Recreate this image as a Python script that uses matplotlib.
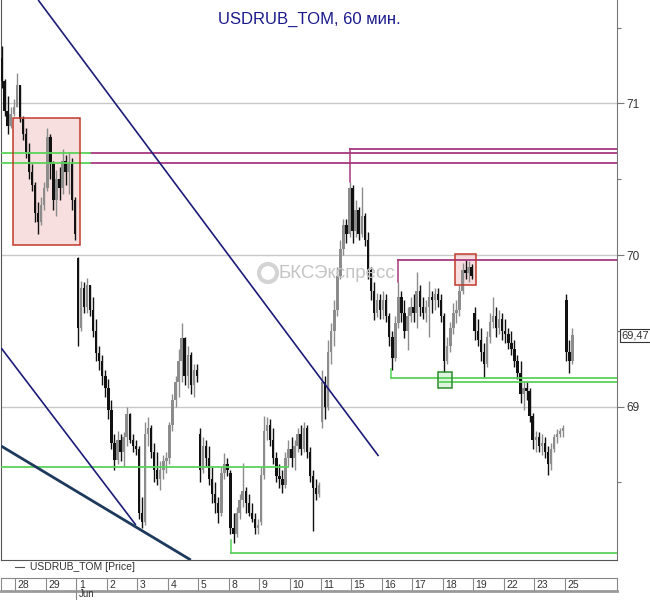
import matplotlib
matplotlib.use("Agg")
import matplotlib.pyplot as plt
from matplotlib.patches import Rectangle, Ellipse
from matplotlib.lines import Line2D
import matplotlib.transforms as mtransforms

plt.rcParams['font.family'] = ['Liberation Sans', 'DejaVu Sans']

# hourly candles, 27 May (last hours) .. 25 Jun
opens = [
    71.30, 71.15, 70.95, 70.85, 70.93,                                      # 27
    70.98, 71.12, 70.90, 70.80, 70.68, 70.55, 70.46, 70.28, 70.22, 70.33,   # 28
    70.44, 70.78, 70.60, 70.36, 70.50, 70.44, 70.62, 70.55, 70.60, 70.36,   # 29
    69.98, 69.52, 69.78, 69.66, 69.80, 69.64, 69.50, 69.35, 69.30, 69.20,   # 1
    69.12, 68.98, 68.76, 68.65, 68.78, 68.70, 68.80, 68.95, 68.78, 68.74,   # 2
    68.72, 68.30, 68.24, 68.82, 68.86, 68.70, 68.58, 68.52, 68.58, 68.64,   # 3
    68.66, 68.88, 69.04, 69.16, 69.30, 69.45, 69.20, 69.34, 69.14, 69.24,   # 4
    68.82, 68.58, 68.74, 68.66, 68.52, 68.42, 68.36, 68.30, 68.56, 68.62,   # 5
    68.56, 68.20, 68.16, 68.30, 68.38, 68.44, 68.36, 68.30, 68.26, 68.20,   # 8
    68.24, 68.55, 68.84, 68.88, 68.78, 68.66, 68.54, 68.52, 68.48, 68.66,   # 9
    68.72, 68.66, 68.74, 68.82, 68.72, 68.86, 68.70, 68.54, 68.46, 68.42,   # 10
    68.90, 69.16, 69.00, 69.36, 69.50, 69.64, 69.86, 70.04, 70.20, 70.14,   # 11
    70.44, 70.16, 70.30, 70.14, 70.26, 70.10, 69.90, 69.76, 69.62, 69.70,   # 15
    69.64, 69.70, 69.60, 69.46, 69.32, 69.55, 69.72, 69.62, 69.50, 69.60,   # 16
    69.66, 69.62, 69.76, 69.66, 69.62, 69.66, 69.72, 69.70, 69.74, 69.70,   # 17
    69.60, 69.30, 69.40, 69.52, 69.62, 69.64, 69.76, 69.90, 69.88, 69.92,   # 18
    69.62, 69.50, 69.44, 69.36, 69.28, 69.46, 69.56, 69.60, 69.52, 69.58,   # 19
    69.50, 69.48, 69.42, 69.38, 69.30, 69.22, 69.08, 69.12, 69.10, 68.94,   # 22
    68.78, 68.80, 68.74, 68.76, 68.70, 68.62, 68.72, 68.80, 68.82, 68.84,   # 23
    69.70, 69.36, 69.30,                                                    # 25
]
highs = [
    71.38, 71.16, 71.05, 70.98, 71.03,
    71.20, 71.12, 70.92, 70.84, 70.74, 70.60, 70.48, 70.35, 70.38, 70.48,
    70.84, 70.80, 70.62, 70.56, 70.58, 70.70, 70.66, 70.68, 70.64, 70.38,
    69.99, 69.83, 69.82, 69.85, 69.80, 69.72, 69.58, 69.40, 69.34, 69.24,
    69.18, 69.04, 68.82, 68.84, 68.82, 68.83, 69.00, 68.96, 68.82, 68.78,
    68.74, 68.40, 68.90, 68.93, 68.88, 68.76, 68.70, 68.64, 68.68, 68.70,
    68.90, 69.08, 69.20, 69.38, 69.55, 69.46, 69.40, 69.36, 69.28, 69.28,
    68.86, 68.80, 68.78, 68.74, 68.60, 68.50, 68.40, 68.60, 68.69, 68.66,
    68.58, 68.30, 68.34, 68.42, 68.63, 68.47, 68.42, 68.36, 68.30, 68.26,
    68.60, 68.94, 68.93, 68.92, 68.86, 68.70, 68.62, 68.58, 68.70, 68.78,
    68.80, 68.78, 68.86, 68.88, 68.90, 68.88, 68.73, 68.58, 68.52, 68.50,
    69.24, 69.20, 69.44, 69.55, 69.70, 69.92, 70.10, 70.24, 70.24, 70.48,
    70.46, 70.36, 70.32, 70.45, 70.28, 70.15, 69.92, 69.82, 69.75, 69.74,
    69.76, 69.74, 69.62, 69.50, 69.60, 69.82, 69.76, 69.70, 69.66, 69.72,
    69.74, 69.89, 69.80, 69.72, 69.70, 69.83, 69.76, 69.78, 69.78, 69.74,
    69.62, 69.46, 69.56, 69.68, 69.70, 69.80, 69.95, 69.97, 69.96, 69.94,
    69.66, 69.58, 69.52, 69.42, 69.50, 69.62, 69.72, 69.66, 69.64, 69.62,
    69.58, 69.52, 69.50, 69.44, 69.34, 69.30, 69.16, 69.16, 69.12, 68.96,
    68.84, 68.83, 68.82, 68.80, 68.74, 68.76, 68.82, 68.85, 68.86, 68.88,
    69.74, 69.44, 69.52,
]
lows = [
    71.10, 70.92, 70.80, 70.84, 70.92,
    70.98, 70.88, 70.76, 70.64, 70.50, 70.42, 70.22, 70.14, 70.20, 70.30,
    70.42, 70.50, 70.30, 70.26, 70.36, 70.40, 70.46, 70.40, 70.30, 70.10,
    69.40, 69.50, 69.62, 69.62, 69.60, 69.46, 69.30, 69.24, 69.14, 69.06,
    68.92, 68.72, 68.58, 68.62, 68.64, 68.60, 68.74, 68.76, 68.70, 68.68,
    68.26, 68.20, 68.22, 68.74, 68.66, 68.50, 68.48, 68.45, 68.52, 68.56,
    68.62, 68.84, 69.00, 69.06, 69.16, 69.14, 69.12, 69.08, 69.06, 69.16,
    68.50, 68.56, 68.60, 68.48, 68.36, 68.30, 68.23, 68.28, 68.52, 68.54,
    68.16, 68.10, 68.14, 68.26, 68.34, 68.30, 68.28, 68.24, 68.16, 68.16,
    68.22, 68.52, 68.78, 68.74, 68.62, 68.50, 68.46, 68.43, 68.46, 68.60,
    68.60, 68.58, 68.70, 68.68, 68.70, 68.66, 68.50, 68.18, 68.38, 68.40,
    68.86, 68.92, 68.98, 69.28, 69.40, 69.60, 69.84, 70.00, 70.08, 70.12,
    70.08, 70.12, 70.10, 70.12, 70.06, 69.84, 69.70, 69.57, 69.59, 69.58,
    69.58, 69.56, 69.40, 69.24, 69.30, 69.52, 69.56, 69.45, 69.37, 69.56,
    69.56, 69.52, 69.60, 69.58, 69.56, 69.46, 69.62, 69.64, 69.66, 69.56,
    69.23, 69.28, 69.36, 69.48, 69.55, 69.60, 69.74, 69.84, 69.82, 69.84,
    69.44, 69.40, 69.30, 69.19, 69.26, 69.42, 69.52, 69.46, 69.48, 69.44,
    69.42, 69.38, 69.34, 69.26, 69.18, 69.02, 68.98, 69.04, 68.90, 68.72,
    68.70, 68.70, 68.68, 68.66, 68.55, 68.58, 68.70, 68.76, 68.80, 68.80,
    69.30, 69.22, 69.28,
]
closes = [
    71.15, 70.95, 70.85, 70.93, 70.98,
    71.12, 70.90, 70.80, 70.68, 70.55, 70.46, 70.28, 70.22, 70.33, 70.44,
    70.78, 70.60, 70.36, 70.50, 70.44, 70.62, 70.55, 70.60, 70.36, 70.14,
    69.52, 69.78, 69.66, 69.80, 69.64, 69.50, 69.35, 69.30, 69.20, 69.12,
    68.98, 68.76, 68.65, 68.78, 68.70, 68.80, 68.95, 68.78, 68.74, 68.72,
    68.30, 68.24, 68.82, 68.86, 68.70, 68.58, 68.52, 68.58, 68.64, 68.66,
    68.88, 69.04, 69.16, 69.30, 69.45, 69.20, 69.34, 69.14, 69.24, 69.20,
    68.58, 68.74, 68.66, 68.52, 68.42, 68.36, 68.30, 68.56, 68.62, 68.58,
    68.20, 68.16, 68.30, 68.38, 68.44, 68.36, 68.30, 68.26, 68.20, 68.22,
    68.55, 68.84, 68.88, 68.78, 68.66, 68.54, 68.52, 68.48, 68.66, 68.72,
    68.66, 68.74, 68.82, 68.72, 68.86, 68.70, 68.54, 68.46, 68.42, 68.48,
    69.16, 69.00, 69.36, 69.50, 69.64, 69.86, 70.04, 70.20, 70.14, 70.44,
    70.16, 70.30, 70.14, 70.26, 70.10, 69.90, 69.76, 69.62, 69.70, 69.64,
    69.70, 69.60, 69.46, 69.32, 69.55, 69.72, 69.62, 69.50, 69.60, 69.66,
    69.62, 69.76, 69.66, 69.62, 69.66, 69.72, 69.70, 69.74, 69.70, 69.60,
    69.30, 69.40, 69.52, 69.62, 69.64, 69.76, 69.90, 69.88, 69.92, 69.86,
    69.50, 69.44, 69.36, 69.28, 69.46, 69.56, 69.60, 69.52, 69.58, 69.50,
    69.48, 69.42, 69.38, 69.30, 69.22, 69.08, 69.12, 69.10, 68.94, 68.78,
    68.80, 68.74, 68.76, 68.70, 68.62, 68.72, 68.80, 68.82, 68.84, 68.86,
    69.36, 69.30, 69.47,
]
day_labels = ['28', '29', '1', '2', '3', '4', '5', '8', '9', '10', '11',
              '15', '16', '17', '18', '19', '22', '23', '25']
last_price = 69.47

# drawn levels: (start, end, price); x in trading days from 28 May, None = right edge
purple_levels = [(10.98, None, 70.70), (2.45, None, 70.673), (2.45, None, 70.607),
                 (12.55, None, 69.967)]
green_levels = [(-0.5, 2.45, 70.673), (-0.5, 2.45, 70.607), (12.32, None, 69.188),
                (13.9, None, 69.162), (-0.5, 8.95, 68.60), (7.06, None, 68.033)]
level_stems = [(10.98, 70.70, 70.48, '#a8387f'), (12.55, 69.967, 69.82, '#a8387f'),
               (12.32, 69.188, 69.25, '#5ad25a'), (7.06, 68.033, 68.12, '#5ad25a')]
trend_lines = [((0.75, 11.9), (71.683, 68.673), '#1c1c78', 1.2),
               ((-0.46, 3.95), (69.386, 68.218), '#1c1c78', 1.2),
               ((-0.46, 5.75), (68.739, 67.987), '#1d3a5c', 2.0)]
boxes = [(-0.065, 2.124, 70.066, 70.904, '#c0392b', '#f4c6c6'),
         (14.41, 15.10, 69.80, 70.007, '#c0392b', '#f4c6c6'),
         (13.856, 14.314, 69.122, 69.228, '#2e8b2e', '#c6ecc6')]

XMIN, XMAX = -0.4575, 19.706
YMIN, YMAX = 67.987, 71.683

fig = plt.figure(figsize=(6.5, 6.0), dpi=100)
ax = fig.add_axes([0.002, 1 - 560 / 600, 0.947, 560 / 600])
ax.set_xlim(XMIN, XMAX)
ax.set_ylim(YMIN, YMAX)

for y in (69, 70, 71):
    ax.axhline(y, color='#c8c8c8', lw=1, zorder=0)

for x0, x1, y0, y1, ec, fc in boxes:
    ax.add_patch(Rectangle((x0, y0), x1 - x0, y1 - y0, facecolor=fc, alpha=0.55,
                           edgecolor='none', zorder=1))
    ax.add_patch(Rectangle((x0, y0), x1 - x0, y1 - y0, facecolor='none',
                           edgecolor=ec, lw=1.1, zorder=5))

# candles
for i in range(len(closes)):
    x = (i + 5.5) / 10 - 1
    o, h, l, c = opens[i], highs[i], lows[i], closes[i]
    col = '#111111' if c < o else '#8c8c8c'
    ax.vlines(x, l, h, color=col, lw=1.0, zorder=3)
    ax.bar(x, max(abs(c - o), 0.008), bottom=min(o, c), width=0.08,
           color=col, lw=0, zorder=3)

for x0, x1, y in purple_levels:
    ax.plot([x0, XMAX if x1 is None else x1], [y, y], color='#a8387f', lw=1.3, zorder=4)
for x0, x1, y in green_levels:
    ax.plot([x0, XMAX if x1 is None else x1], [y, y], color='#5ad25a', lw=1.3, zorder=4)
for x, y0, y1, col in level_stems:
    ax.plot([x, x], [y0, y1], color=col, lw=1.1, zorder=4)
for xs, ys, col, lw in trend_lines:
    ax.plot(xs, ys, color=col, lw=lw, zorder=4, solid_capstyle='butt')

ax.set_xticks([])
ax.yaxis.set_ticks_position('right')
ax.set_yticks([69, 70, 71])
ax.set_yticklabels(['69', '70', '71'])
ax.set_yticks([68.5, 69.5, 70.5, 71.5], minor=True)
ax.tick_params(axis='y', which='major', length=5, width=0.8, color='#777777',
               labelsize=8.5, labelcolor='#333333', pad=2)
ax.tick_params(axis='y', which='minor', length=3, width=0.8, color='#777777')
ax.spines['top'].set_visible(False)
ax.spines['left'].set_color('#555555')
ax.spines['bottom'].set_color('#555555')
ax.spines['right'].set_color('#777777')

trans = mtransforms.blended_transform_factory(ax.transAxes, ax.transData)
ax.text(1.008, last_price, '69,47', transform=trans, fontsize=8, color='#333333',
        va='center', ha='left',
        bbox=dict(boxstyle='square,pad=0.15', fc='white', ec='#333333', lw=0.8))

ax.text(0.5, 0.965, 'USDRUB_TOM, 60 мин.', transform=ax.transAxes, ha='center',
        va='center', fontsize=12, color='#1a1a8c')

# watermark
fig.add_artist(Ellipse((268 / 650, 1 - 273 / 600), 18 / 650, 18 / 600,
                       transform=fig.transFigure, facecolor='none',
                       edgecolor='#d4d4d4', lw=3, zorder=6))
fig.text(279 / 650, 1 - 273 / 600, 'БКСЭкспресс', fontsize=13.5, color='#c4c4c4',
         ha='left', va='center', zorder=6)

# legend row
fig.add_artist(Line2D([15 / 650, 24 / 650], [1 - 567 / 600] * 2,
                      transform=fig.transFigure, color='#555555', lw=0.8))
fig.text(30 / 650, 1 - 567 / 600, 'USDRUB_TOM [Price]', fontsize=7.5,
         color='#333333', va='center', ha='left')

# date strip
sx = fig.add_axes([0.002, 1 - 591 / 600, 0.947, 13 / 600])
sx.set_xlim(XMIN, XMAX)
sx.set_ylim(0, 1)
sx.set_xticks([])
sx.set_yticks([])
for side in ('top', 'left', 'right'):
    sx.spines[side].set_color('#888888')
    sx.spines[side].set_linewidth(0.8)
sx.spines['bottom'].set_color('#999999')
sx.spines['bottom'].set_linewidth(2)
for k, lab in enumerate(day_labels):
    sx.axvline(k, color='#888888', lw=0.8)
    sx.text(k + 0.08, 0.45, lab, fontsize=7.5, color='#333333', va='center', ha='left')

jun_x = 0.002 + 0.947 * (2 - XMIN) / (XMAX - XMIN)
fig.add_artist(Line2D([jun_x, jun_x], [1 - 591 / 600, 0], transform=fig.transFigure,
                      color='#888888', lw=0.8))
fig.text(jun_x + 0.004, 0.002, 'Jun', fontsize=7, color='#333333',
         va='bottom', ha='left')

fig.savefig('out.png', dpi=100)
